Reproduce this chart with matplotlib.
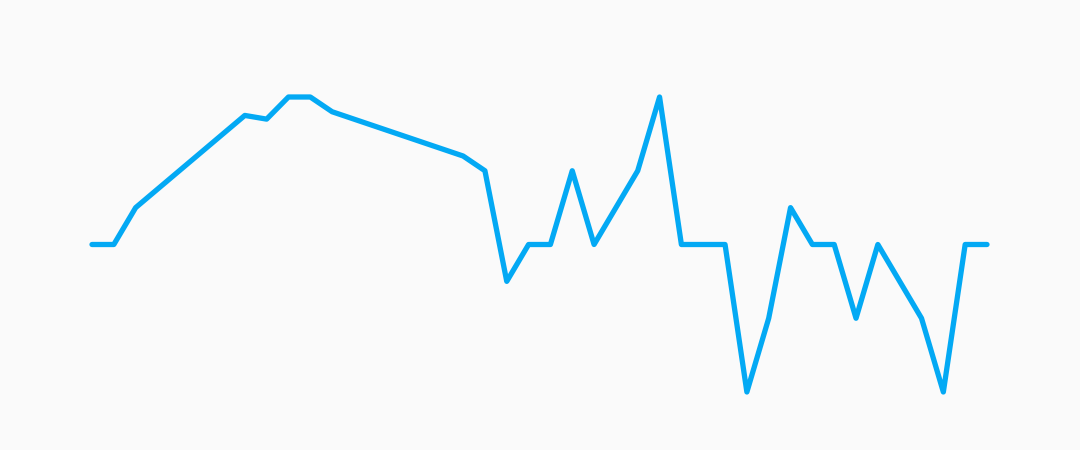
import numpy as np
from matplotlib import pyplot as plt

# values, one per step
values = [0, 0, 1, 1.5, 2, 2.5, 3, 3.5, 3.4, 4, 4, 3.6,
          3.4, 3.2, 3.0, 2.8, 2.6, 2.4, 2, -1, 0, 0, 2, 0,
          1, 2, 4, 0, 0, 0, -4, -2, 1, 0, 0, -2, 0, -1,
          -2, -4, 0, 0]
steps = np.arange(len(values))

BG = '#fafafa'
LINE = '#03a9f4'

fig = plt.figure(figsize=(10.8, 4.5), dpi=100, facecolor=BG)
ax = fig.add_axes([92/1080, (450-392)/450, (987-92)/1080, (392-97)/450])
ax.set_facecolor(BG)
ax.plot(steps, values, color=LINE, linewidth=3.8,
        solid_joinstyle='round', solid_capstyle='round', clip_on=False)
ax.set_xlim(0, len(values) - 1)
ax.set_ylim(-4, 4)
ax.axis('off')

fig.savefig('out.png', dpi=100, facecolor=BG)
